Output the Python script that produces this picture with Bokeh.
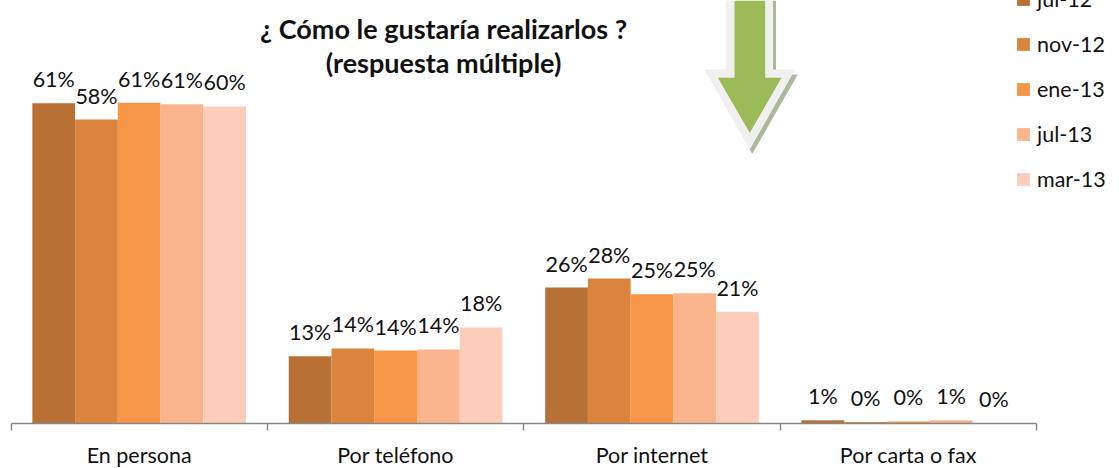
from bokeh.plotting import figure
from bokeh.embed import file_html
from bokeh.resources import INLINE
from bokeh.core.properties import value
from bokeh.models import (Range1d, LinearAxis, FixedTicker, Legend, LegendItem,
                          PolyAnnotation, ColumnDataSource, Label)

categories = ["En persona", "Por teléfono", "Por internet", "Por carta o fax"]
series_names = ["jul-12", "nov-12", "ene-13", "jul-13", "mar-13"]
jul_12 = [61.0, 12.8, 25.9, 0.6]
nov_12 = [57.9, 14.3, 27.6, 0.3]
ene_13 = [61.1, 13.9, 24.6, 0.4]
jul_13 = [60.8, 14.1, 24.8, 0.6]
mar_13 = [60.4, 18.3, 21.3, 0.1]
series_values = [jul_12, nov_12, ene_13, jul_13, mar_13]
colors = ["#B87034", "#DB843D", "#F79646", "#FAB58F", "#FCCDB9"]
title_lines = ["¿ Cómo le gustaría realizarlos ?", "(respuesta múltiple)"]

W, H = 1119, 468
FONT = "Lato"
X0, CAT_W, FH, PX_PER = 10.5, 256.4, 423, 5.25

p = figure(width=W, height=H, frame_width=W, frame_height=FH,
           output_backend="svg", toolbar_location=None,
           x_range=Range1d(-X0 / CAT_W, (W - X0) / CAT_W),
           y_range=Range1d(0, FH / PX_PER),
           x_axis_type=None, y_axis_type=None,
           min_border_left=0, min_border_right=0, min_border_top=0,
           min_border_bottom=H - FH,
           outline_line_color=None, background_fill_color="white",
           margin=(0, 0, 0, 0))
p.grid.visible = False

axis = LinearAxis(
    ticker=FixedTicker(ticks=[i + 0.5 for i in range(len(categories))],
                       minor_ticks=list(range(len(categories) + 1))),
    major_label_overrides={i + 0.5: c for i, c in enumerate(categories)},
    bounds=(0, len(categories)),
    axis_line_color="#868686", axis_line_width=1.5,
    major_tick_line_color=None, major_tick_out=0, major_tick_in=0,
    minor_tick_line_color="#868686", minor_tick_line_width=1.5,
    minor_tick_out=7, minor_tick_in=0,
    major_label_standoff=11,
    major_label_text_font=FONT, major_label_text_font_size="21.5px",
    major_label_text_color="#111111")
p.add_layout(axis, "below")

# Arrow (decoration, screen coordinates measured from the top, flipped for the frame)
for xs, ys, col in [
    ([772.5, 775.5, 775.5, 797.3, 751.7, 749.3, 772.5], [0, 0, 74, 74, 153.5, 149, 69], "#AEB89A"),
    ([725.7, 772.3, 772.3, 794.7, 749.3, 704, 725.7], [0, 0, 69, 69, 149, 69, 69], "#F0F0F0"),
    ([734, 764.7, 764.7, 781, 749.3, 717.3, 734], [0, 0, 77.3, 77.3, 132.3, 77.3, 77.3], "#9BBB59"),
]:
    p.add_layout(PolyAnnotation(xs=xs, ys=[FH - y for y in ys], xs_units="screen", ys_units="screen",
                                fill_color=col, fill_alpha=1, line_color=None))

items = []
for i, (name, vals, col) in enumerate(zip(series_names, series_values, colors)):
    src = ColumnDataSource(dict(
        x=[c + 0.5 + (i - 2) / 6 for c in range(len(categories))],
        top=vals,
        label=[f"{v:.0f}%" for v in vals]))
    r = p.vbar(x="x", top="top", bottom=0, width=1 / 6, source=src,
               fill_color=col, line_color=None)
    p.text(x="x", y="top", text="label", source=src, y_offset=-24,
           text_align="center", text_baseline="middle",
           text_font=value(FONT), text_font_size="21.5px", text_color="#111111")
    items.append(LegendItem(label=name, renderers=[r]))

legend = Legend(items=items, location=(1015, FH - 192), orientation="vertical",
                border_line_color=None, background_fill_alpha=0,
                padding=0, margin=0, spacing=19, glyph_width=16, glyph_height=16,
                label_height=18, label_standoff=6,
                label_text_font=FONT, label_text_font_size="21.5px",
                label_text_color="#111111")
p.add_layout(legend)

for txt, y in zip(title_lines, [28, 62]):
    p.add_layout(Label(x=443, y=FH - y, x_units="screen", y_units="screen", text=txt,
                       text_align="center", text_baseline="middle",
                       text_font=FONT, text_font_size="27px", text_font_style="bold",
                       text_color="#111111"))

open("out.html", "w").write(file_html(p, INLINE))
